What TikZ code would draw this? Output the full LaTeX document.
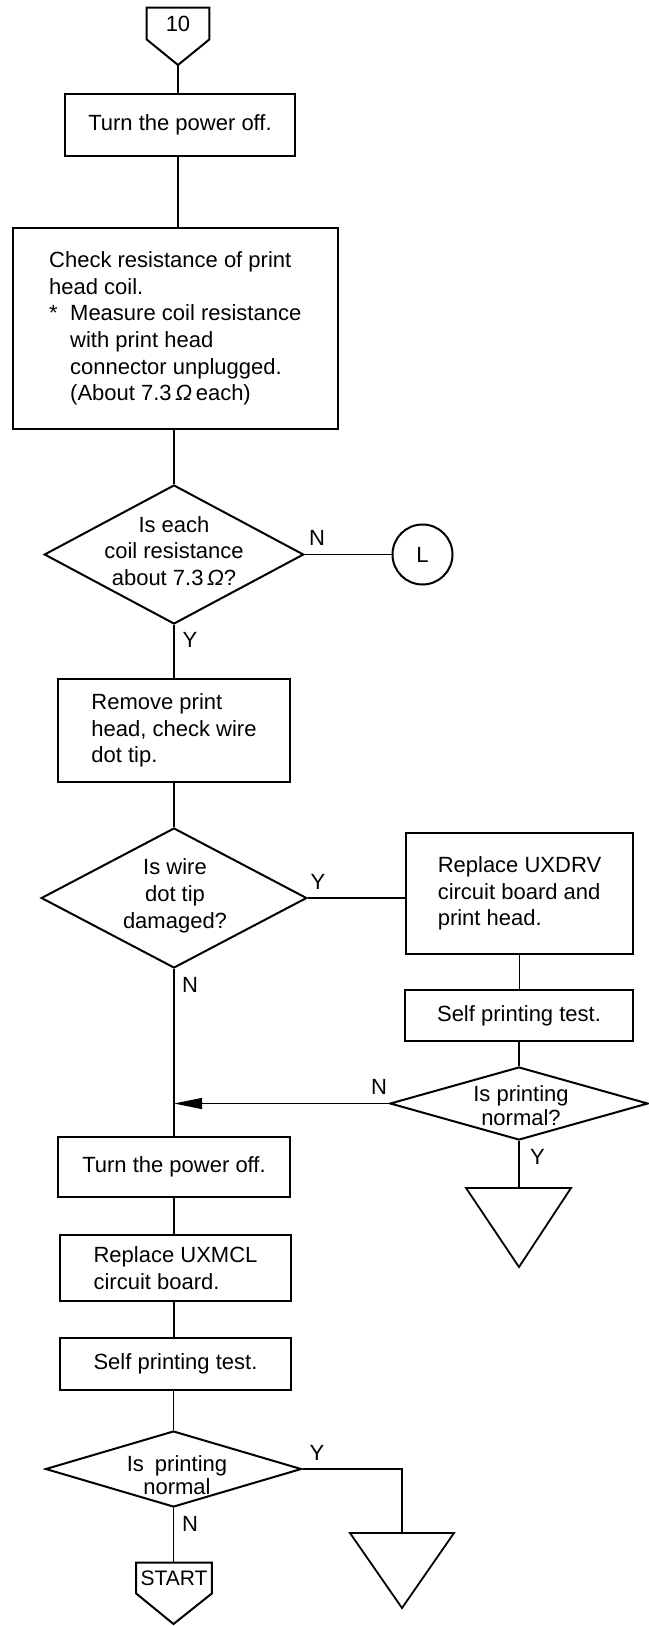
\documentclass[tikz,border=0pt]{standalone}
\usepackage{fontspec}
\setmainfont{Liberation Sans}
\usetikzlibrary{shapes.geometric,arrows.meta}
\begin{document}
\begin{tikzpicture}[x=0.5pt,y=-0.5pt,
  font=\fontsize{11}{13.35}\selectfont,
  box/.style={draw, line width=1pt, inner sep=0pt, align=left},
  dia/.style={draw, diamond, line width=1pt, inner sep=0pt},
  dtext/.style={inner sep=0pt, align=center},
  link/.style={line width=0.6pt},
  lbl/.style={inner sep=0pt, anchor=center},
  term/.style={line width=1pt},
  tri/.style={line width=0.9pt},
]
\useasboundingbox (0,0) rectangle (648,1626);

% entry connector 10
\node[inner sep=0pt, minimum width=31pt, minimum height=15.5pt] (p10) at (178,23.5) {10};
\coordinate (p10tip) at (178,65);
\draw[term] (p10.north west) -- (p10.north east) -- (p10.south east) -- (p10tip) -- (p10.south west) -- cycle;

% box 1
\node[box, minimum width=114.8pt, minimum height=31pt] (b1) at (180,125) {Turn the power off.};
\draw[link] (p10tip) -- (p10tip |- b1.north);

% box 2
\node[box, minimum width=162.75pt, minimum height=100.5pt] (b2) at (175.25,328.5)
 {Check resistance of print\\
  head coil.\\
  \makebox[10.5pt][l]{*}Measure coil resistance\\
  \hspace*{10.5pt}with print head\\
  \hspace*{10.5pt}connector unplugged.\\
  \hspace*{10.5pt}(About 7.3\,\textit{Ω}\,each)};
\draw[link] (b1.south -| p10tip) -- (p10tip |- b2.north);

% diamond 1
\node[dia, minimum width=129.7pt, minimum height=69.5pt] (d1) at (174,554.5) {};
\node[dtext] (t1) at (174,551) {Is each\\coil resistance\\about 7.3\,\textit{Ω}?};
\draw[link] (b2.south -| d1.north) -- (d1.north);

% circle L
\node[draw, circle, line width=1pt, minimum size=30pt, inner sep=0pt] (cL) at (422.5,554.5) {L};
\draw[link] (d1.east) -- (cL.west);
\node[lbl] (n1) at (317,538) {N};

% box 3
\node[box, minimum width=116pt, minimum height=51.5pt] (b3) at (174,730.5)
 {Remove print\\head, check wire\\dot tip.};
\draw[link] (d1.south) -- (d1.south |- b3.north);
\node[lbl] (y1) at (190,640) {Y};

% diamond 2
\node[dia, minimum width=132.8pt, minimum height=70pt] (d2) at (174,898) {};
\node[dtext] (t2) at (175,896) {Is wire\\dot tip\\damaged?};
\draw[link] (b3.south) -- (b3.south |- d2.north);

% box 4
\node[box, minimum width=113.5pt, minimum height=60.5pt] (b4) at (519.5,893.5)
 {Replace UXDRV\\circuit board and\\print head.};
\draw[link] (d2.east) -- (d2.east -| b4.west);
\node[lbl] (y2) at (318,882) {Y};

% box 5
\node[box, minimum width=114pt, minimum height=25.5pt] (b5) at (519,1015.5) {Self printing test.};
\draw[link] (b4.south) -- (b4.south |- b5.north);

% diamond 3
\node[dia, minimum width=129pt, minimum height=36.5pt] (d3) at (519,1103.5) {};
\node[dtext] (t3) at (521,1105.5) {Is printing\\[-1pt]normal?};
\draw[link] (b5.south) -- (b5.south |- d3.north);
\draw[link, -{Triangle[length=14pt,width=5.5pt]}] (d3.west) -- (d3.west -| d2.south);
\node[lbl] (n3) at (379,1087) {N};
\node[lbl] (y3) at (537.5,1157) {Y};

% triangle 1
\coordinate (tri1) at (519,1188);
\draw[tri] (466,1188) -- (571,1188) -- (519,1267) -- cycle;
\draw[link] (d3.south) -- (tri1);

% box 6
\node[box, minimum width=116pt, minimum height=30pt] (b6) at (174,1167) {Turn the power off.};
\draw[link] (d2.south) -- (d2.south |- b6.north);
\node[lbl] (n2) at (190,985) {N};

% box 7
\node[box, minimum width=115.5pt, minimum height=33pt] (b7) at (175.5,1268)
 {Replace UXMCL\\circuit board.};
\draw[link] (b6.south) -- (b6.south |- b7.north);

% box 8
\node[box, minimum width=115.5pt, minimum height=26pt] (b8) at (175.5,1364)
 {Self printing test.};
\draw[link] (b7.south -| b6.south) -- (b6.south |- b8.north);

% diamond 4
\node[dia, minimum width=128pt, minimum height=38pt] (d4) at (173.5,1469) {};
\node[dtext] (t4) at (177,1475) {Is\enspace printing\\[-1.5pt]normal};
\draw[link] (b8.south -| d4.north) -- (d4.north);
\node[lbl] (y4) at (317,1453) {Y};

% triangle 2
\coordinate (tri2) at (402,1533);
\draw[tri] (350,1533) -- (454,1533) -- (402,1608) -- cycle;
\draw[link] (d4.east) -| (tri2);

% START connector
\node[inner sep=0pt, minimum width=37.5pt, minimum height=15pt, font=\fontsize{10.5}{12}\selectfont] (pst) at (174,1578) {START};
\coordinate (psttip) at (173.5,1624);
\draw[term] (pst.north west) -- (pst.north east) -- (pst.south east) -- (psttip) -- (pst.south west) -- cycle;
\draw[link] (d4.south) -- (d4.south |- pst.north);
\node[lbl] (n4) at (190,1524) {N};
\end{tikzpicture}
\end{document}
